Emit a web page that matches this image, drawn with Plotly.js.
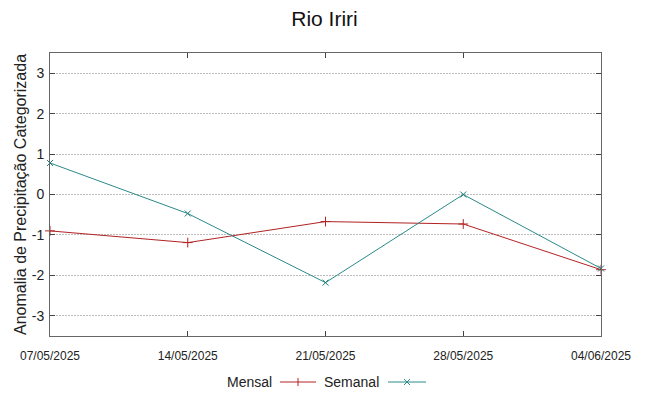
<!DOCTYPE html>
<html>
<head>
<meta charset="utf-8">
<script src="https://cdn.plot.ly/plotly-3.0.1.min.js"></script>
<style>html,body{margin:0;padding:0;background:#fff;}#chart{width:649px;height:396px;}</style>
</head>
<body>
<div id="chart"></div>
<script>
const dates = ["2025-05-07", "2025-05-14", "2025-05-21", "2025-05-28", "2025-06-04"];
const tickLabels = ["07/05/2025", "14/05/2025", "21/05/2025", "28/05/2025", "04/06/2025"];
const mensal = [-0.90, -1.19, -0.67, -0.73, -1.86];
const semanal = [0.78, -0.47, -2.18, 0.00, -1.83];
const yTicks = [-3, -2, -1, 0, 1, 2, 3];
const yTickLabels = ["-3", "-2", "-1", "0", "1", "2", "3"];
const seriesNames = ["Mensal", "Semanal"];
const seriesColors = ["#b22222", "#2a8a8a"];

const font = "Liberation Sans, Arial, sans-serif";
const W = 649, H = 396;
const M = {l: 50, r: 48, t: 53, b: 60};
const pw = W - M.l - M.r, ph = H - M.t - M.b;
const px = x => (x - M.l) / pw;
const py = y => (H - M.b - y) / ph;

const traces = [
  {
    x: dates, y: mensal, name: seriesNames[0], type: "scatter", mode: "lines+markers",
    line: {color: seriesColors[0], width: 1},
    marker: {symbol: "cross-thin", size: 7, line: {color: seriesColors[0], width: 1}, color: seriesColors[0]},
    cliponaxis: false
  },
  {
    x: dates, y: semanal, name: seriesNames[1], type: "scatter", mode: "lines+markers",
    line: {color: seriesColors[1], width: 1},
    marker: {symbol: "x-thin", size: 6, line: {color: "#1a7a7a", width: 1}, color: "#1a7a7a"},
    cliponaxis: false
  }
];

// manual legend (text left, sample right) like the reference
const legY = 382;
const legItems = [
  {textRight: 274, lineX0: 280, lineX1: 316, sym: "+"},
  {textRight: 381, lineX0: 388, lineX1: 426, sym: "x"}
];
const shapes = [];
const annotations = [];
legItems.forEach((it, i) => {
  const c = seriesColors[i];
  annotations.push({
    text: seriesNames[i], xref: "paper", yref: "paper",
    x: px(it.textRight), y: py(legY), xanchor: "right", yanchor: "middle",
    showarrow: false, font: {family: font, size: 14, color: "#222"}
  });
  shapes.push({type: "line", xref: "paper", yref: "paper",
    x0: px(it.lineX0), x1: px(it.lineX1), y0: py(legY), y1: py(legY),
    line: {color: c, width: 1}});
  const cx = (it.lineX0 + it.lineX1) / 2, s = 3;
  if (it.sym === "+") {
    shapes.push({type: "line", xref: "paper", yref: "paper",
      x0: px(cx), x1: px(cx), y0: py(legY - s - 1), y1: py(legY + s + 1), line: {color: c, width: 1}});
  } else {
    shapes.push({type: "line", xref: "paper", yref: "paper",
      x0: px(cx - s), x1: px(cx + s), y0: py(legY - s), y1: py(legY + s), line: {color: c, width: 1}});
    shapes.push({type: "line", xref: "paper", yref: "paper",
      x0: px(cx - s), x1: px(cx + s), y0: py(legY + s), y1: py(legY - s), line: {color: c, width: 1}});
  }
});

const layout = {
  width: W, height: H,
  margin: M,
  paper_bgcolor: "#fff", plot_bgcolor: "#fff",
  font: {family: font, color: "#222"},
  title: {text: "Rio Iriri", font: {family: font, size: 21, color: "#111"}, x: 0.5, xanchor: "center", y: 0.953, yanchor: "middle"},
  xaxis: {
    type: "date", automargin: false,
    range: [dates[0], dates[dates.length - 1]],
    tickvals: dates, ticktext: tickLabels,
    ticks: "inside", ticklen: 5, tickcolor: "#444", tickwidth: 1,
    showgrid: false, zeroline: false,
    showline: true, linecolor: "#666", linewidth: 1, mirror: "ticks",
    tickfont: {family: font, size: 12, color: "#222"},
    ticklabelstandoff: 9
  },
  yaxis: {
    automargin: false,
    range: [-3.5, 3.5],
    tickvals: yTicks, ticktext: yTickLabels,
    ticks: "inside", ticklen: 5, tickcolor: "#444", tickwidth: 1,
    showgrid: true, gridcolor: "#bdbdbd", griddash: "2px,1px", gridwidth: 1,
    zeroline: false,
    showline: true, linecolor: "#666", linewidth: 1, mirror: "ticks",
    tickfont: {family: font, size: 14, color: "#222"},
    ticklabelstandoff: 2,
    title: {text: "Anomalia de Precipitação Categorizada", font: {family: font, size: 16, color: "#222"}, standoff: 1}
  },
  showlegend: false,
  shapes: shapes,
  annotations: annotations
};

Plotly.newPlot("chart", traces, layout, {displayModeBar: false, staticPlot: true});
</script>
</body>
</html>
